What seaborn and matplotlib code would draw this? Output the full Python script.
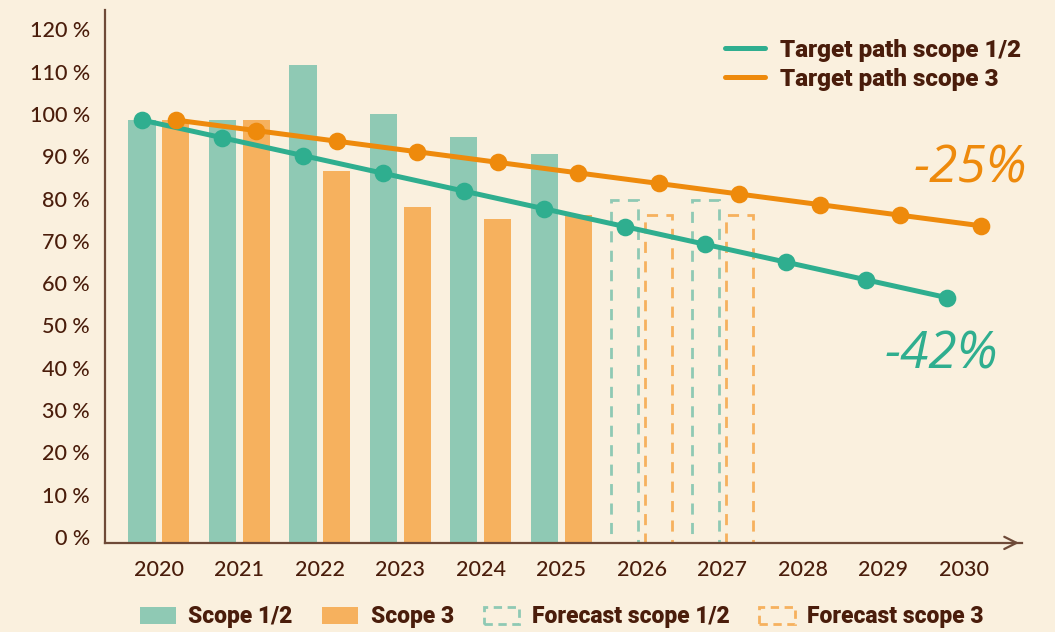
import numpy as np
import pandas as pd
import matplotlib
matplotlib.use("Agg")
import matplotlib.pyplot as plt
import matplotlib.transforms as mtransforms
from matplotlib.patches import Patch
from matplotlib.lines import Line2D
import seaborn as sns

# ---------------- data ----------------
years = [str(y) for y in range(2020, 2031)]
actual_years = ["2020", "2021", "2022", "2023", "2024", "2025"]
scope12 = [100, 100, 113, 101.5, 96, 92]
scope3 = [100, 100, 88, 79.5, 76.5, 77.5]
forecast_years = ["2026", "2027"]
forecast12 = [81, 81]
forecast3 = [77.5, 77.5]
target12 = [100, 95.8, 91.6, 87.4, 83.2, 79.0, 74.8, 70.6, 66.4, 62.2, 58.0]
target3 = [100, 97.5, 95, 92.5, 90, 87.5, 85, 82.5, 80, 77.5, 75]
yticks = list(range(0, 121, 10))
series_actual = ["Scope 1/2", "Scope 3"]
series_forecast = ["Forecast scope 1/2", "Forecast scope 3"]
series_target = ["Target path scope 1/2", "Target path scope 3"]
annot_labels = ["-25%", "-42%"]

# ---------------- style ----------------
BG = "#FAF0DE"
TEXT = "#4A1D0B"
AXIS = "#6E4A38"
TEAL_BAR = "#8FC9B4"
ORANGE_BAR = "#F6B15E"
TEAL_LINE = "#2FAE8F"
ORANGE_LINE = "#EE8A0C"

sns.set_theme(style="white")
plt.rcParams["font.family"] = ["Lato", "DejaVu Sans"]

fig = plt.figure(figsize=(10.55, 6.32), dpi=100, facecolor=BG)
ax = fig.add_axes([0.0995, 0.141, 0.869, 0.843])
ax.set_facecolor("none")

actual_df = pd.DataFrame({
    "year": actual_years * 2,
    "series": [series_actual[0]] * len(actual_years) + [series_actual[1]] * len(actual_years),
    "value": scope12 + scope3,
})
fc_df = pd.DataFrame({
    "year": forecast_years * 2,
    "series": [series_forecast[0]] * len(forecast_years) + [series_forecast[1]] * len(forecast_years),
    "value": forecast12 + forecast3,
})
tgt_df = pd.DataFrame({
    "year": years * 2,
    "series": [series_target[0]] * len(years) + [series_target[1]] * len(years),
    "value": target12 + target3,
})

sns.barplot(data=actual_df, x="year", y="value", hue="series", order=years,
            hue_order=series_actual, palette=[TEAL_BAR, ORANGE_BAR],
            width=0.84, gap=0.2, errorbar=None, saturation=1, legend=False,
            linewidth=0, ax=ax)

n0 = len(ax.patches)
sns.barplot(data=fc_df, x="year", y="value", hue="series", order=years,
            hue_order=series_forecast, palette=[TEAL_BAR, ORANGE_BAR],
            width=0.84, gap=0.2, errorbar=None, saturation=1, legend=False,
            fill=False, linewidth=2, ax=ax)
for p in ax.patches[n0:]:
    p.set_linestyle((0, (4, 3)))
    p.set_linewidth(2)

sns.pointplot(data=tgt_df, x="year", y="value", hue="series", order=years,
              hue_order=series_target, palette=[TEAL_LINE, ORANGE_LINE],
              dodge=0.42, markers="o", markersize=10, linewidth=3.6,
              errorbar=None, legend=False, ax=ax, zorder=5)

ax.set_xlim(-0.67, 10.72)
ax.set_ylim(0, 126)
ax.set_yticks(yticks)
ax.set_yticklabels([f"{v} %" for v in yticks])
ax.set_xlabel("")
ax.set_ylabel("")
ax.grid(False)
for s in ["top", "right"]:
    ax.spines[s].set_visible(False)
for s in ["left", "bottom"]:
    ax.spines[s].set_color(AXIS)
    ax.spines[s].set_linewidth(1.6)
ax.tick_params(axis="both", length=0, colors=TEXT, labelsize=15.5)
ax.tick_params(axis="y", pad=11)
ax.tick_params(axis="x", pad=12)
for lab in ax.get_xticklabels() + ax.get_yticklabels():
    lab.set_fontweight("medium")
off = mtransforms.ScaledTranslation(0, 6 / 100, fig.dpi_scale_trans)
for lab in ax.get_yticklabels():
    lab.set_transform(lab.get_transform() + off)

ax.annotate("", xy=(1.0, 0), xycoords="axes fraction", xytext=(0.985, 0),
            arrowprops=dict(arrowstyle="->", color=AXIS, lw=1.6, mutation_scale=22))

# annotations
ax.text(10.08, 88.5, annot_labels[0], color=ORANGE_LINE, fontsize=37,
        fontstyle="italic", fontweight="normal", ha="center", va="center",
        family=["Open Sans", "DejaVu Sans"])
ax.text(9.72, 44.5, annot_labels[1], color=TEAL_LINE, fontsize=37,
        fontstyle="italic", fontweight="normal", ha="center", va="center",
        family=["Open Sans", "DejaVu Sans"])

# top legend
top_handles = [Line2D([0], [0], color=TEAL_LINE, lw=3.6),
               Line2D([0], [0], color=ORANGE_LINE, lw=3.6)]
leg1 = fig.legend(top_handles, series_target, loc="upper left",
                  bbox_to_anchor=(703 / 1055, 1 - 17 / 632), frameon=False,
                  handlelength=1.65, handletextpad=0.6, labelspacing=0.25,
                  prop=dict(family=["Roboto", "DejaVu Sans"], weight="black", size=17.5))
for t in leg1.get_texts():
    t.set_color(TEXT)

# bottom legend
bot_handles = [Patch(facecolor=TEAL_BAR, edgecolor="none"),
               Patch(facecolor=ORANGE_BAR, edgecolor="none"),
               Patch(facecolor="none", edgecolor=TEAL_BAR, linestyle=(0, (3, 2)), linewidth=2),
               Patch(facecolor="none", edgecolor=ORANGE_BAR, linestyle=(0, (3, 2)), linewidth=2)]
leg2 = fig.legend(bot_handles, series_actual + series_forecast, loc="center",
                  bbox_to_anchor=(562 / 1055, 1 - 617 / 632), ncol=4, frameon=False,
                  handlelength=1.55, handleheight=0.75, handletextpad=0.55,
                  columnspacing=1.3,
                  prop=dict(family=["Roboto", "DejaVu Sans"], weight="black", size=16.5))
for t in leg2.get_texts():
    t.set_color(TEXT)

fig.savefig("out.png", dpi=100, facecolor=BG)
